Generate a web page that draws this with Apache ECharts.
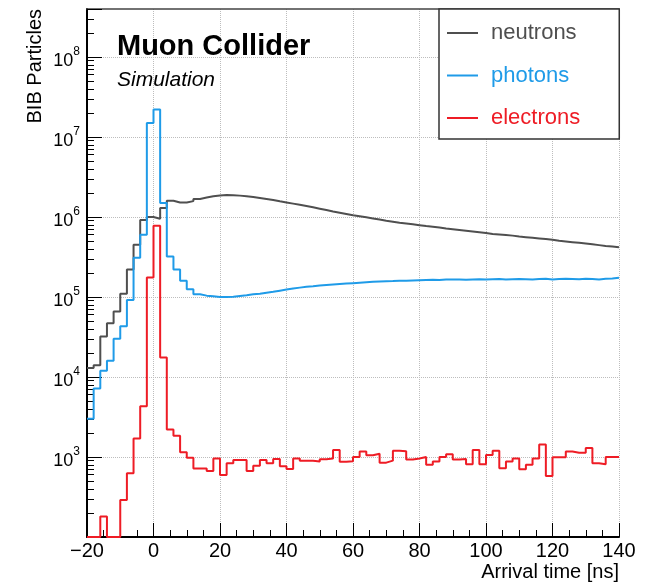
<!DOCTYPE html>
<html>
<head>
<meta charset="utf-8">
<script src="https://cdn.jsdelivr.net/npm/echarts@6/dist/echarts.min.js"></script>
<style>
html,body{margin:0;padding:0;background:#fff;}
#chart{width:653px;height:584px;}
</style>
</head>
<body>
<div id="chart"></div>
<script>
// Bin edges of the 2 ns histogram bins, in ns
const BIN_EDGES = [-20,-18,-16,-14,-12,-10,-8,-6,-4,-2,0,2,4,6,8,10,12,14,16,18,20,22,24,26,28,30,32,34,36,38,40,42,44,46,48,50,52,54,56,58,60,62,64,66,68,70,72,74,76,78,80,82,84,86,88,90,92,94,96,98,100,102,104,106,108,110,112,114,116,118,120,122,124,126,128,130,132,134,136,138,140];

const NEUTRONS = [
  13000, 14000, 32000, 47000, 66000, 110000, 220000, 450000, 920000, 1000000,
  950000, 1300000, 1600000, 1520000, 1520000, 1580000, 1680000, 1750000, 1820000, 1860000,
  1880000, 1870000, 1850000, 1820000, 1780000, 1730000, 1680000, 1630000, 1570000, 1520000,
  1470000, 1420000, 1370000, 1320000, 1270000, 1220000, 1170000, 1130000, 1090000, 1050000,
  1020000, 990000, 960000, 930000, 900000, 875000, 850000, 830000, 810000, 790000,
  770000, 755000, 740000, 720000, 705000, 690000, 675000, 660000, 645000, 630000,
  615000, 605000, 595000, 585000, 570000, 560000, 550000, 540000, 530000, 520000,
  505000, 495000, 485000, 475000, 465000, 455000, 445000, 435000, 428000, 420000
];

const PHOTONS = [
  3000, 7200, 12000, 16000, 30000, 43000, 92000, 310000, 600000, 15000000,
  22000000, 1500000, 320000, 220000, 160000, 125000, 108000, 104000, 102000, 100000,
  100000, 101000, 103000, 105000, 108000, 110000, 113000, 116000, 120000, 124000,
  128000, 131000, 134000, 136000, 139000, 141000, 143000, 145000, 147000, 149000,
  151000, 153000, 155000, 156000, 157000, 158000, 160000, 160000, 161000, 162000,
  163000, 164000, 163000, 165000, 166000, 165000, 164000, 166000, 167000, 166000,
  167000, 168000, 166000, 167000, 168000, 167000, 166000, 168000, 169000, 166000,
  168000, 169000, 168000, 167000, 169000, 168000, 166000, 169000, 170000, 174000
];

const ELECTRONS = [
  0, 0, 180, 0, 0, 290, 625, 1700, 4300, 175000,
  780000, 17500, 2200, 1850, 1150, 980, 720, 720, 670, 960,
  595, 835, 915, 915, 670, 780, 915, 835, 945, 765,
  710, 960, 900, 900, 880, 940, 960, 1220, 870, 885,
  1000, 1170, 1050, 1100, 850, 900, 1200, 1180, 930, 960,
  1000, 800, 880, 1000, 1080, 930, 945, 810, 1220, 810,
  1060, 1200, 725, 880, 960, 705, 800, 960, 1430, 580,
  990, 990, 1170, 1130, 1130, 1300, 835, 810, 1000, 1000
];

const SERIES_NAMES = ['neutrons', 'photons', 'electrons'];
const SERIES_COLORS = ['#4f4f4f', '#1f9be8', '#ee1c25'];

const X_MIN = -20, X_MAX = 140, X_STEP = 20;
const Y_MIN = 100;
const Y_MAX_EXP = 8.6;
const Y_LABEL_EXPONENTS = [3, 4, 5, 6, 7, 8];
const MINOR_MANTISSAS = [2, 3, 4, 5, 6, 7, 8, 9];
const FONT = '"Liberation Sans", Arial, Helvetica, sans-serif';

const Y_MAX = Math.pow(10, Y_MAX_EXP);

// minor tick positions (log10 space) for the helper tick axis
const MINOR_LOG = [];
for (let n = 2; n <= 8; n++) {
  MINOR_MANTISSAS.forEach(function (k) {
    const l = Math.log10(k) + n;
    if (l <= Y_MAX_EXP + 1e-9) MINOR_LOG.push(l);
  });
}

function hist(vals) {
  const pts = vals.map(function (v, i) { return [BIN_EDGES[i], v > 0 ? v : Y_MIN]; });
  pts.push([BIN_EDGES[vals.length], pts[pts.length - 1][1]]);
  return pts;
}

const chart = echarts.init(document.getElementById('chart'), null, {renderer: 'canvas'});

const dataSets = [NEUTRONS, PHOTONS, ELECTRONS];

const option = {
  animation: false,
  backgroundColor: '#fff',
  grid: {left: 87, right: 34, top: 9, bottom: 47},
  title: {
    text: 'Muon Collider',
    subtext: 'Simulation',
    left: 117, top: 31, padding: 0, itemGap: 6,
    textStyle: {fontSize: 29, fontWeight: 'bold', fontFamily: FONT, color: '#000', lineHeight: 31},
    subtextStyle: {fontSize: 21, fontStyle: 'italic', fontFamily: FONT, color: '#000', lineHeight: 24}
  },
  legend: {
    orient: 'vertical',
    left: 439, top: 9,
    padding: [12, 39, 9, 8],
    itemGap: 18.5,
    itemWidth: 31, itemHeight: 2,
    icon: 'rect',
    backgroundColor: '#fff',
    borderColor: '#333', borderWidth: 1.5, borderRadius: 0,
    textStyle: {fontSize: 22, fontFamily: FONT, lineHeight: 24, padding: [0, 0, 0, 8]},
    data: SERIES_NAMES.map(function (n, i) { return {name: n, textStyle: {color: SERIES_COLORS[i]}}; }),
    z: 10
  },
  xAxis: [{
    type: 'value', min: X_MIN, max: X_MAX, interval: X_STEP, position: 'bottom',
    axisLine: {show: true, onZero: false, lineStyle: {color: '#000', width: 2}},
    axisTick: {show: true, inside: true, length: 14, lineStyle: {color: '#000', width: 1}},
    minorTick: {show: true, splitNumber: 4, length: 7, lineStyle: {color: '#000', width: 1}},
    axisLabel: {
      fontSize: 20, fontFamily: FONT, color: '#000', margin: 4, lineHeight: 20,
      showMinLabel: true, showMaxLabel: true,
      formatter: function (v) { return v < 0 ? '\u2212' + Math.abs(v) : String(v); }
    },
    splitLine: {show: true, lineStyle: {color: '#bdbdbd', type: 'dotted', width: 1}}
  }, {
    type: 'value', min: X_MIN, max: X_MAX, position: 'top',
    axisLine: {show: true, onZero: false, lineStyle: {color: '#444', width: 1.5}},
    axisTick: {show: false}, axisLabel: {show: false}, splitLine: {show: false}
  }],
  yAxis: [{
    type: 'log', logBase: 10, min: Y_MIN, max: Y_MAX, position: 'left',
    axisLine: {show: true, onZero: false, lineStyle: {color: '#000', width: 2}},
    axisTick: {show: true, inside: true, length: 15, lineStyle: {color: '#000', width: 1}},
    axisLabel: {
      margin: 7,
      showMinLabel: true, showMaxLabel: true,
      formatter: function (v) {
        const l = Math.log10(v);
        const e = Math.round(l);
        if (Math.abs(l - e) > 1e-6 || Y_LABEL_EXPONENTS.indexOf(e) < 0) return '';
        return '{b|10}{s|' + e + '}';
      },
      rich: {
        b: {fontSize: 18, fontFamily: FONT, color: '#000', padding: [8, 0, 0, 0]},
        s: {fontSize: 12, fontFamily: FONT, color: '#000', padding: [0, 0, 10, 0]}
      }
    },
    splitLine: {show: true, showMaxLine: false, lineStyle: {color: '#bdbdbd', type: 'dotted', width: 1}}
  }, {
    type: 'value', min: 2, max: Y_MAX_EXP, position: 'left', offset: 0,
    axisLine: {show: false, onZero: false}, axisLabel: {show: false}, splitLine: {show: false},
    axisTick: {show: true, inside: true, length: 7, customValues: MINOR_LOG, lineStyle: {color: '#000', width: 1}}
  }],
  graphic: [
    {type: 'text', x: 35, y: 9, rotation: Math.PI / 2, z: 100,
      style: {text: 'BIB Particles', fontSize: 20, fontFamily: FONT, fill: '#000', align: 'right', verticalAlign: 'middle'}},
    {type: 'text', x: 619, y: 572, z: 100,
      style: {text: 'Arrival time [ns]', fontSize: 20, fontFamily: FONT, fill: '#000', align: 'right', verticalAlign: 'middle'}}
  ],
  series: dataSets.map(function (vals, i) {
    return {
      name: SERIES_NAMES[i], type: 'line', step: 'end',
      xAxisIndex: 0, yAxisIndex: 0,
      data: hist(vals),
      showSymbol: false, symbol: 'none',
      color: SERIES_COLORS[i],
      lineStyle: {width: 2, color: SERIES_COLORS[i]},
      z: 2 + i
    };
  })
};

chart.setOption(option);
</script>
</body>
</html>
